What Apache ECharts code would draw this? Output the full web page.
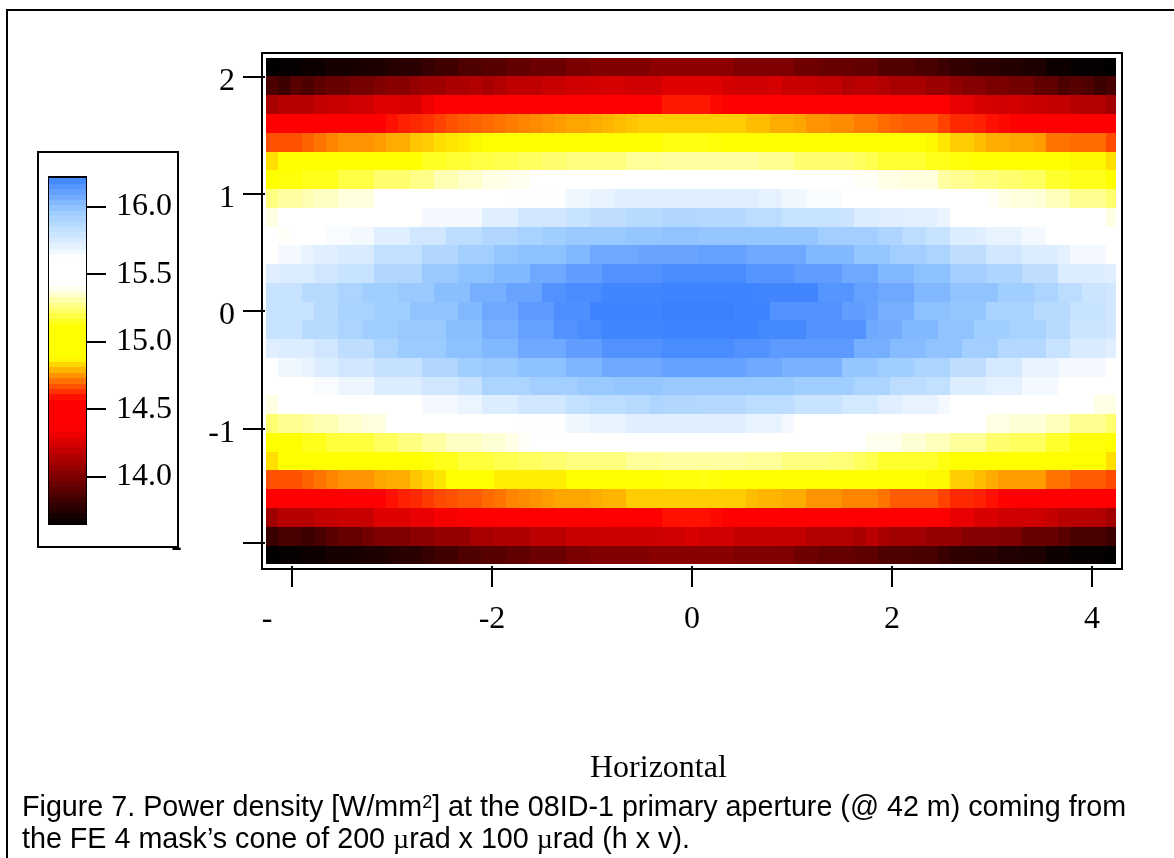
<!DOCTYPE html>
<html><head><meta charset="utf-8">
<style>html,body{margin:0;padding:0;background:#fff}#c{width:1174px;height:858px}</style>
<script src="https://cdn.jsdelivr.net/npm/echarts@6/dist/echarts.min.js"></script>
</head><body><div id="c"></div>
<script>
const xCenters=[-4.20,-4.08,-3.96,-3.84,-3.72,-3.60,-3.48,-3.36,-3.24,-3.12,-3.00,-2.88,-2.76,-2.64,-2.52,-2.40,-2.28,-2.16,-2.04,-1.92,-1.80,-1.68,-1.56,-1.44,-1.32,-1.20,-1.08,-0.96,-0.84,-0.72,-0.60,-0.48,-0.36,-0.24,-0.12,0,0.12,0.24,0.36,0.48,0.60,0.72,0.84,0.96,1.08,1.20,1.32,1.44,1.56,1.68,1.80,1.92,2.04,2.16,2.28,2.40,2.52,2.64,2.76,2.88,3.00,3.12,3.24,3.36,3.48,3.60,3.72,3.84,3.96,4.08,4.20];
const yCenters=[2.08,1.92,1.76,1.60,1.44,1.28,1.12,0.96,0.80,0.64,0.48,0.32,0.16,0,-0.16,-0.32,-0.48,-0.64,-0.80,-0.96,-1.12,-1.28,-1.44,-1.60,-1.76,-1.92,-2.08];
const row0=[13.65,13.67,13.67,13.69,13.69,13.71,13.71,13.72,13.73,13.73,13.75,13.77,13.77,13.80,13.83,13.83,13.87,13.87,13.89,13.89,13.92,13.92,13.95,13.95,13.95,13.99,13.99,14.01,14.01,14.01,14.01,14.01,14.04,14.04,14.04,14.04, 14.04,14.04,14.04,14.00,14.00,14.00,14.00,14.00,13.96,13.96,13.94,13.94,13.94,13.92,13.92,13.88,13.88,13.88,13.85,13.85,13.82,13.79,13.79,13.77,13.77,13.75,13.75,13.73,13.73,13.69,13.69,13.67,13.67,13.67,13.65];
const row1=[13.86,13.82,13.89,13.86,13.91,13.94,13.94,13.98,13.98,14.01,14.03,14.03,14.07,14.09,14.09,14.13,14.13,14.15,14.12,14.15,14.18,14.18,14.18,14.21,14.21,14.23,14.23,14.24,14.25,14.25,14.23,14.23,14.23,14.27,14.27,14.27, 14.27,14.27,14.24,14.23,14.23,14.23,14.25,14.21,14.21,14.21,14.19,14.19,14.15,14.17,14.17,14.15,14.12,14.12,14.12,14.08,14.08,14.05,14.02,14.02,13.99,13.99,13.97,13.97,13.92,13.92,13.86,13.89,13.87,13.82,13.85];
const row2=[14.12,14.16,14.16,14.16,14.19,14.21,14.21,14.23,14.23,14.27,14.27,14.26,14.26,14.32,14.38,14.38,14.45,14.45,14.45,14.45,14.45,14.45,14.45,14.45,14.45,14.45,14.45,14.45,14.45,14.45,14.45,14.45,14.45,14.60,14.60,14.60, 14.60,14.58,14.45,14.45,14.45,14.45,14.45,14.45,14.45,14.45,14.45,14.45,14.45,14.45,14.45,14.45,14.45,14.45,14.45,14.45,14.45,14.30,14.29,14.26,14.24,14.23,14.24,14.22,14.21,14.19,14.19,14.16,14.15,14.15,14.10];
const row3=[14.50,14.55,14.55,14.55,14.55,14.55,14.55,14.55,14.55,14.55,14.59,14.61,14.62,14.63,14.65,14.67,14.68,14.69,14.70,14.71,14.72,14.73,14.74,14.75,14.76,14.77,14.77,14.78,14.79,14.80,14.81,14.82,14.82,14.82,14.82,14.82, 14.82,14.82,14.82,14.82,14.80,14.80,14.78,14.78,14.77,14.75,14.75,14.74,14.74,14.72,14.72,14.70,14.69,14.68,14.68,14.68,14.65,14.62,14.62,14.61,14.59,14.58,14.55,14.55,14.55,14.55,14.55,14.55,14.55,14.55,14.50];
const row4=[14.67,14.67,14.67,14.69,14.71,14.73,14.75,14.75,14.75,14.76,14.78,14.78,14.81,14.82,14.84,14.85,14.86,14.87,15.00,15.00,15.00,15.00,15.00,15.00,15.00,15.00,15.00,15.00,15.00,15.00,15.00,15.00,15.00,15.13,15.13,15.13, 15.13,15.12,15.00,15.00,15.00,15.00,15.00,15.00,15.00,15.00,15.00,15.00,15.00,15.00,15.00,15.00,15.00,15.00,15.00,14.87,14.85,14.82,14.82,14.80,14.78,14.78,14.77,14.77,14.76,14.71,14.71,14.70,14.70,14.70,14.66];
const row5=[14.84,14.95,14.95,15.00,15.00,15.00,15.00,15.00,15.00,15.05,15.05,15.05,15.05,15.15,15.15,15.17,15.17,15.19,15.19,15.20,15.20,15.22,15.22,15.24,15.24,15.26,15.26,15.26,15.26,15.26,15.29,15.29,15.29,15.30,15.30,15.30, 15.30,15.30,15.30,15.30,15.30,15.28,15.28,15.28,15.24,15.24,15.24,15.24,15.24,15.22,15.20,15.17,15.17,15.17,15.17,15.14,15.14,15.12,15.12,15.00,15.00,15.00,15.00,15.00,15.00,15.00,15.00,14.87,14.87,14.87,14.84];
const row6=[15.00,15.12,15.12,15.14,15.14,15.14,15.19,15.19,15.19,15.24,15.24,15.24,15.27,15.27,15.32,15.32,15.35,15.35,15.38,15.38,15.39,15.39,15.50,15.50,15.50,15.50,15.50,15.50,15.50,15.50,15.50,15.50,15.50,15.50,15.50,15.50, 15.50,15.50,15.50,15.50,15.50,15.50,15.50,15.50,15.50,15.50,15.50,15.50,15.50,15.40,15.40,15.38,15.38,15.37,15.37,15.37,15.30,15.28,15.28,15.26,15.26,15.24,15.24,15.22,15.22,15.16,15.16,15.14,15.14,15.14,15.05];
const row7=[15.26,15.30,15.30,15.32,15.34,15.34,15.37,15.37,15.37,15.50,15.50,15.50,15.50,15.50,15.50,15.50,15.50,15.50,15.50,15.50,15.63,15.63,15.63,15.63,15.63,15.67,15.67,15.70,15.70,15.73,15.73,15.73,15.73,15.73,15.73,15.73, 15.73,15.73,15.73,15.73,15.73,15.71,15.71,15.67,15.67,15.64,15.64,15.64,15.62,15.50,15.50,15.50,15.50,15.50,15.50,15.50,15.50,15.50,15.50,15.50,15.40,15.38,15.37,15.37,15.36,15.33,15.33,15.28,15.28,15.28,15.24];
const row8=[15.38,15.50,15.50,15.50,15.50,15.50,15.50,15.50,15.50,15.50,15.50,15.50,15.50,15.66,15.66,15.66,15.66,15.66,15.73,15.73,15.73,15.78,15.78,15.78,15.78,15.81,15.81,15.84,15.84,15.84,15.87,15.87,15.87,15.89,15.89,15.89, 15.88,15.88,15.88,15.88,15.85,15.85,15.85,15.81,15.81,15.81,15.81,15.81,15.80,15.74,15.74,15.73,15.73,15.72,15.72,15.72,15.69,15.50,15.50,15.50,15.50,15.50,15.50,15.50,15.50,15.60,15.60,15.60,15.60,15.60,15.38];
const row9=[15.50,15.40,15.50,15.50,15.50,15.64,15.64,15.66,15.66,15.73,15.73,15.73,15.78,15.78,15.78,15.85,15.85,15.85,15.89,15.89,15.89,15.92,15.92,15.95,15.95,15.97,15.97,15.97,15.97,15.97,15.98,15.98,15.98,15.99,15.99,15.99, 15.98,15.98,15.98,15.98,15.98,15.98,15.98,15.98,15.98,15.98,15.94,15.94,15.94,15.94,15.94,15.90,15.90,15.85,15.85,15.81,15.81,15.74,15.74,15.73,15.70,15.70,15.70,15.66,15.66,15.50,15.50,15.50,15.50,15.50,15.50];
const row10=[15.60,15.66,15.66,15.70,15.73,15.73,15.75,15.75,15.75,15.83,15.83,15.83,15.83,15.89,15.89,15.89,15.94,15.94,15.94,15.98,15.98,16.00,16.00,16.00,16.00,16.03,16.03,16.08,16.08,16.08,16.08,16.10,16.10,16.10,16.10,16.10, 16.11,16.11,16.11,16.11,16.08,16.08,16.08,16.08,16.08,16.03,16.03,16.03,16.03,15.98,15.98,15.98,15.94,15.94,15.94,15.91,15.91,15.84,15.84,15.84,15.78,15.78,15.78,15.74,15.74,15.74,15.71,15.66,15.66,15.66,15.60];
const row11=[15.73,15.74,15.74,15.74,15.78,15.78,15.81,15.81,15.81,15.89,15.89,15.89,15.89,15.97,15.97,15.97,16.00,16.00,16.00,16.03,16.03,16.03,16.08,16.08,16.08,16.12,16.12,16.12,16.16,16.16,16.16,16.16,16.16,16.18,16.18,16.18, 16.18,16.18,16.18,16.18,16.15,16.15,16.15,16.15,16.12,16.12,16.12,16.12,16.08,16.08,16.08,16.03,16.03,16.03,16.00,16.00,16.00,15.94,15.94,15.94,15.90,15.90,15.90,15.84,15.84,15.84,15.74,15.74,15.74,15.74,15.73];
const row12=[15.81,15.81,15.81,15.87,15.87,15.87,15.91,15.91,15.95,15.95,15.95,15.97,15.97,15.97,16.01,16.01,16.01,16.06,16.06,16.06,16.10,16.10,16.10,16.16,16.16,16.18,16.18,16.18,16.20,16.20,16.20,16.20,16.20,16.21,16.21,16.21, 16.21,16.21,16.21,16.21,16.21,16.20,16.20,16.20,16.20,16.20,16.15,16.15,16.15,16.11,16.11,16.08,16.08,16.08,16.03,16.03,16.03,15.99,15.99,15.99,15.99,15.95,15.95,15.95,15.91,15.91,15.85,15.85,15.80,15.80,15.78];
const row13=[15.81,15.81,15.81,15.81,15.87,15.87,15.92,15.92,15.92,15.95,15.95,15.95,15.99,15.99,15.99,15.99,16.03,16.03,16.08,16.08,16.08,16.13,16.13,16.13,16.17,16.17,16.17,16.21,16.21,16.21,16.21,16.21,16.21,16.22,16.22,16.22, 16.22,16.22,16.22,16.21,16.21,16.21,16.16,16.16,16.16,16.16,16.16,16.16,16.12,16.12,16.10,16.06,16.06,16.06,16.00,16.00,16.00,15.98,15.98,15.98,15.92,15.92,15.92,15.92,15.87,15.87,15.87,15.81,15.81,15.81,15.78];
const row14=[15.81,15.81,15.81,15.87,15.87,15.87,15.91,15.91,15.95,15.95,15.95,15.97,15.97,15.97,15.97,16.01,16.01,16.01,16.06,16.06,16.06,16.11,16.11,16.11,16.16,16.16,16.18,16.18,16.20,16.20,16.20,16.20,16.20,16.21,16.21,16.21, 16.21,16.21,16.21,16.21,16.21,16.19,16.19,16.19,16.19,16.16,16.16,16.16,16.16,16.16,16.08,16.07,16.07,16.03,16.03,16.03,15.99,15.99,15.99,15.95,15.95,15.95,15.92,15.92,15.92,15.87,15.87,15.80,15.80,15.80,15.78];
const row15=[15.73,15.74,15.74,15.74,15.78,15.78,15.84,15.84,15.84,15.91,15.91,15.96,15.96,15.96,15.96,16.00,16.00,16.00,16.03,16.03,16.03,16.08,16.08,16.08,16.08,16.12,16.12,16.12,16.16,16.16,16.16,16.16,16.16,16.18,16.18,16.18, 16.18,16.18,16.18,16.16,16.16,16.16,16.13,16.13,16.13,16.13,16.13,16.13,16.13,16.06,16.06,16.06,16.02,16.02,16.02,15.99,15.99,15.99,15.94,15.94,15.94,15.88,15.88,15.88,15.88,15.81,15.81,15.75,15.75,15.75,15.73];
const row16=[15.60,15.67,15.67,15.70,15.74,15.74,15.78,15.78,15.78,15.82,15.82,15.82,15.82,15.89,15.89,15.89,15.95,15.95,15.97,15.97,15.97,16.00,16.00,16.00,16.00,16.04,16.04,16.04,16.08,16.08,16.08,16.08,16.08,16.11,16.11,16.11, 16.11,16.11,16.11,16.11,16.08,16.08,16.08,16.05,16.05,16.05,16.05,16.05,15.98,15.98,15.98,15.95,15.95,15.95,15.91,15.91,15.91,15.84,15.84,15.84,15.76,15.76,15.76,15.70,15.70,15.70,15.66,15.66,15.66,15.66,15.60];
const row17=[15.50,15.50,15.50,15.55,15.64,15.64,15.68,15.68,15.68,15.74,15.74,15.74,15.74,15.78,15.78,15.78,15.82,15.82,15.91,15.91,15.91,15.91,15.94,15.94,15.94,15.94,15.97,15.97,15.97,15.98,15.98,15.98,15.98,15.97,15.97,15.97, 15.97,15.97,15.97,15.97,15.97,15.97,15.97,15.97,15.95,15.95,15.95,15.95,15.95,15.91,15.91,15.91,15.85,15.85,15.85,15.83,15.83,15.74,15.74,15.74,15.71,15.71,15.71,15.66,15.66,15.66,15.60,15.50,15.50,15.50,15.50];
const row18=[15.38,15.50,15.50,15.50,15.50,15.50,15.50,15.50,15.50,15.50,15.50,15.50,15.50,15.66,15.66,15.66,15.69,15.69,15.74,15.74,15.74,15.78,15.78,15.78,15.78,15.83,15.83,15.85,15.85,15.85,15.87,15.87,15.90,15.89,15.89,15.89, 15.88,15.88,15.88,15.88,15.85,15.85,15.85,15.85,15.81,15.81,15.81,15.81,15.77,15.77,15.77,15.73,15.73,15.70,15.70,15.70,15.66,15.50,15.50,15.50,15.50,15.50,15.50,15.42,15.42,15.42,15.42,15.42,15.42,15.38,15.38];
const row19=[15.24,15.28,15.28,15.30,15.32,15.32,15.35,15.35,15.37,15.37,15.50,15.50,15.50,15.50,15.50,15.50,15.50,15.50,15.50,15.50,15.50,15.63,15.63,15.63,15.63,15.67,15.67,15.70,15.70,15.70,15.73,15.73,15.73,15.73,15.73,15.73, 15.73,15.73,15.73,15.73,15.70,15.70,15.70,15.66,15.62,15.50,15.50,15.50,15.50,15.50,15.50,15.50,15.50,15.50,15.50,15.50,15.50,15.50,15.50,15.50,15.38,15.38,15.36,15.36,15.36,15.33,15.33,15.28,15.28,15.28,15.24];
const row20=[15.05,15.10,15.10,15.14,15.14,15.18,15.18,15.18,15.18,15.22,15.22,15.26,15.26,15.30,15.30,15.34,15.34,15.34,15.36,15.36,15.38,15.40,15.50,15.50,15.50,15.50,15.50,15.50,15.50,15.50,15.50,15.50,15.50,15.50,15.50,15.50, 15.50,15.50,15.50,15.50,15.50,15.50,15.50,15.50,15.50,15.50,15.50,15.50,15.50,15.42,15.39,15.39,15.39,15.36,15.36,15.33,15.33,15.29,15.29,15.29,15.24,15.24,15.22,15.22,15.22,15.16,15.16,15.12,15.12,15.12,15.05];
const row21=[14.84,15.00,15.00,15.00,15.00,15.00,15.00,15.00,15.00,15.00,15.00,15.00,15.00,15.12,15.14,15.14,15.18,15.18,15.18,15.20,15.20,15.22,15.22,15.24,15.24,15.26,15.26,15.26,15.26,15.26,15.29,15.29,15.29,15.30,15.30,15.30, 15.30,15.30,15.30,15.30,15.29,15.29,15.29,15.26,15.26,15.26,15.26,15.25,15.25,15.22,15.20,15.16,15.16,15.16,15.16,15.16,15.13,15.00,15.00,15.00,15.00,15.00,15.00,15.00,15.00,15.00,14.88,14.88,14.88,14.88,14.84];
const row22=[14.67,14.67,14.67,14.69,14.71,14.73,14.75,14.75,14.75,14.77,14.78,14.78,14.81,14.83,14.85,14.90,15.00,15.00,15.00,14.86,14.86,14.86,14.86,14.86,14.86,15.00,15.00,15.00,15.00,15.00,15.00,15.00,15.00,15.12,15.12,15.12, 15.13,15.12,15.00,15.00,15.00,15.00,15.00,15.00,15.00,15.00,15.00,15.00,15.00,15.00,15.00,15.00,15.00,15.00,15.00,14.87,14.87,14.82,14.82,14.80,14.78,14.76,14.76,14.76,14.76,14.71,14.71,14.68,14.68,14.68,14.66];
const row23=[14.50,14.55,14.55,14.55,14.55,14.55,14.55,14.55,14.55,14.55,14.59,14.61,14.62,14.64,14.66,14.67,14.68,14.68,14.70,14.71,14.73,14.74,14.75,14.76,14.77,14.77,14.77,14.78,14.79,14.79,14.82,14.82,14.82,14.82,14.82,14.82, 14.82,14.82,14.82,14.82,14.80,14.79,14.79,14.78,14.78,14.75,14.75,14.75,14.73,14.73,14.73,14.71,14.68,14.68,14.68,14.68,14.65,14.62,14.62,14.61,14.59,14.57,14.52,14.52,14.52,14.52,14.52,14.52,14.52,14.52,14.52];
const row24=[14.10,14.16,14.16,14.16,14.19,14.19,14.21,14.21,14.21,14.27,14.27,14.27,14.30,14.30,14.34,14.34,14.45,14.45,14.45,14.45,14.45,14.45,14.45,14.45,14.45,14.45,14.45,14.45,14.45,14.45,14.45,14.45,14.45,14.59,14.59,14.59, 14.59,14.58,14.45,14.45,14.45,14.45,14.45,14.45,14.45,14.45,14.45,14.45,14.45,14.45,14.45,14.45,14.45,14.45,14.45,14.45,14.45,14.30,14.30,14.26,14.26,14.23,14.23,14.23,14.22,14.20,14.16,14.16,14.16,14.15,14.10];
const row25=[13.81,13.85,13.85,13.82,13.85,13.90,13.93,13.93,13.97,14.00,14.00,14.00,14.04,14.04,14.07,14.07,14.07,14.12,14.12,14.14,14.14,14.14,14.17,14.17,14.17,14.21,14.21,14.21,14.22,14.22,14.22,14.22,14.22,14.23,14.23,14.26, 14.23,14.23,14.23,14.20,14.20,14.20,14.19,14.19,14.19,14.15,14.15,14.15,14.15,14.12,14.17,14.12,14.10,14.10,14.10,14.07,14.07,14.07,14.02,14.02,14.02,14.00,14.00,13.94,13.94,13.94,13.90,13.85,13.85,13.85,13.82];
const row26=[13.65,13.67,13.67,13.69,13.69,13.71,13.71,13.72,13.73,13.73,13.75,13.77,13.77,13.80,13.83,13.83,13.87,13.87,13.89,13.89,13.92,13.92,13.95,13.95,13.95,13.99,13.99,14.01,14.01,14.01,14.01,14.01,14.03,14.03,14.03,14.03, 14.03,14.03,14.03,14.00,14.00,14.00,14.00,14.00,13.96,13.96,13.93,13.93,13.93,13.91,13.91,13.87,13.87,13.87,13.85,13.85,13.81,13.78,13.78,13.77,13.77,13.74,13.74,13.73,13.73,13.69,13.69,13.67,13.67,13.67,13.65];
const heatRows=[row0,row1,row2,row3,row4,row5,row6,row7,row8,row9,row10,row11,row12,row13,row14,row15,row16,row17,row18,row19,row20,row21,row22,row23,row24,row25,row26];
const colorbarValues=[13.67,13.71,13.75,13.79,13.83,13.87,13.91,13.95,13.99,14.03,14.07,14.11,14.15,14.19,14.23,14.27,14.31,14.35,14.39,14.43,14.47,14.51,14.55,14.59,14.63,14.67,14.71,14.75,14.79,14.83,14.87,14.91,14.95,14.99,15.03,15.07,15.11,15.15,15.19,15.23,15.27,15.31,15.35,15.39,15.43,15.47,15.51,15.55,15.59,15.63,15.67,15.71,15.75,15.79,15.83,15.87,15.91,15.95,15.99,16.03,16.07,16.11,16.15,16.19];
const colorbarTicks=[14.0,14.5,15.0,15.5,16.0];
const xTicks=[-4,-2,0,2,4];
const yTicks=[-1.975,-1,0,1,2];
const colorStops=[[13.65,[0,0,0]],[14.36,[255,0,0]],[14.57,[255,0,0]],[14.88,[255,255,0]],[15.11,[255,255,0]],[15.41,[255,255,255]],[15.62,[255,255,255]],[15.96,[156,204,255]],[16.22,[58,128,255]]];

const vMin=13.65, vMax=16.22, colorSteps=256;
const ramp=[];
for(let k=0;k<=colorSteps;k++){
  const v=vMin+(vMax-vMin)*k/colorSteps;
  let j=0; while(j<colorStops.length-2 && v>colorStops[j+1][0]) j++;
  const [a,ca]=colorStops[j],[b,cb]=colorStops[j+1];
  const t=Math.min(1,Math.max(0,(v-a)/(b-a)));
  ramp.push('rgb('+ca.map((c,n)=>Math.round(c+(cb[n]-c)*t)).join(',')+')');
}
const heatData=[];
heatRows.forEach((r,i)=>r.forEach((v,j)=>heatData.push([xCenters[j],yCenters[i],v])));
const barData=colorbarValues.map(v=>[0.5,v,v]);
const xCellStep=0.12,yCellStep=0.16,xRightLimit=4.24,barStep=0.04;
function cells(stepX,stepY,limit){
  return function(params,api){
    const c=api.coord([api.value(0),api.value(1)]);
    const s=api.size([stepX,stepY]);
    const x0=Math.round(c[0]-s[0]/2),y0=Math.round(c[1]-s[1]/2);
    let x1=Math.round(c[0]+s[0]/2);
    const y1=Math.round(c[1]+s[1]/2);
    if(limit!==null) x1=Math.min(x1,Math.round(api.coord([limit,0])[0]));
    return {type:'rect',shape:{x:x0,y:y0,width:x1-x0,height:y1-y0},style:{fill:api.visual('color')}};
  };
}
const serif='"Liberation Serif","Times New Roman",serif', sans='"Liberation Sans",Arial,sans-serif';
const line={show:true,onZero:false,lineStyle:{color:'#000',width:2}};
const tickStyle={lineStyle:{color:'#000',width:2}};
const labelBase={color:'#000',fontFamily:serif,fontSize:32};
const chart=echarts.init(document.getElementById('c'),null,{renderer:'canvas'});
chart.setOption({
  animation:false,backgroundColor:'#fff',
  grid:[
    {left:262,top:53,width:860,height:516,show:true,borderColor:'#000',borderWidth:2,backgroundColor:'#fff'},
    {left:49,top:177,width:37,height:347,show:true,borderColor:'#000',borderWidth:2,backgroundColor:'#fff'}
  ],
  xAxis:[
    {gridIndex:0,type:'value',position:'bottom',min:-4.3,max:4.3,splitLine:{show:false},axisLine:line,
     axisTick:{show:true,length:18,customValues:xTicks,...tickStyle},
     axisLabel:{...labelBase,margin:35,customValues:xTicks,hideOverlap:false,showMinLabel:true,showMaxLabel:true,
       formatter:v=>v===-4?'{dash|-}':String(v),rich:{dash:{...labelBase,padding:[0,50,0,0]}}}},
    {gridIndex:0,type:'value',position:'bottom',min:-4.3,max:4.3,splitLine:{show:false},axisLine:line,axisLabel:{show:false},
     axisTick:{show:true,inside:true,length:3,customValues:xTicks,...tickStyle}},
    {gridIndex:1,type:'value',min:0,max:1,show:false}
  ],
  yAxis:[
    {gridIndex:0,type:'value',position:'left',min:-2.2,max:2.2,splitLine:{show:false},axisLine:line,
     axisTick:{show:true,length:19,customValues:yTicks,...tickStyle},
     axisLabel:{...labelBase,margin:27,customValues:yTicks,hideOverlap:false,showMinLabel:true,showMaxLabel:true,padding:[10,0,0,0],
       formatter:v=>v<-1.5?'{dash|-}':String(v),rich:{dash:{...labelBase,padding:[0,53,0,0]}}}},
    {gridIndex:0,type:'value',position:'left',min:-2.2,max:2.2,splitLine:{show:false},axisLine:line,axisLabel:{show:false},
     axisTick:{show:true,inside:true,length:3,customValues:yTicks,...tickStyle}},
    {gridIndex:1,type:'value',position:'right',min:vMin,max:vMax,splitLine:{show:false},axisLine:line,
     axisTick:{show:true,length:20,customValues:colorbarTicks,...tickStyle},
     axisLabel:{...labelBase,margin:30,customValues:colorbarTicks,hideOverlap:false,formatter:v=>v.toFixed(1)}}
  ],
  visualMap:{show:false,type:'continuous',seriesIndex:[0,1],dimension:2,min:vMin,max:vMax,inRange:{color:ramp}},
  series:[
    {type:'custom',xAxisIndex:0,yAxisIndex:0,data:heatData,encode:{x:0,y:1},renderItem:cells(xCellStep,yCellStep,xRightLimit),silent:true,clip:false,progressive:0},
    {type:'custom',xAxisIndex:2,yAxisIndex:2,data:barData,encode:{x:0,y:1},renderItem:cells(1,barStep,null),silent:true,clip:true,progressive:0}
  ],
  graphic:[
    {type:'polyline',silent:true,shape:{points:[[7,858],[7,10],[1174,10]]},style:{stroke:'#000',lineWidth:2,fill:null}},
    {type:'rect',silent:true,shape:{x:38,y:152,width:140,height:395},style:{stroke:'#000',lineWidth:2,fill:null}},
    {type:'text',silent:true,x:590,y:753,style:{text:'Horizontal',fill:'#000',font:'32px '+serif}},
    {type:'text',silent:true,x:22,y:794,style:{
      text:'Figure 7. Power density [W/mm{sup|2}] at the 08ID-1 primary aperture (@ 42 m) coming from',
      fill:'#000',fontFamily:sans,fontSize:28.7,
      rich:{sup:{fontFamily:sans,fontSize:18,fill:'#000',verticalAlign:'top',padding:[0,0,11,0]}}}},
    {type:'text',silent:true,x:22,y:826,style:{
      text:'the FE 4 mask\u2019s cone of 200 {mu|\u00b5}rad x 100 {mu|\u00b5}rad (h x v).',
      fill:'#000',fontFamily:sans,fontSize:28.7,
      rich:{mu:{fontFamily:serif,fontSize:28,fill:'#000'}}}}
  ]
});
</script></body></html>
